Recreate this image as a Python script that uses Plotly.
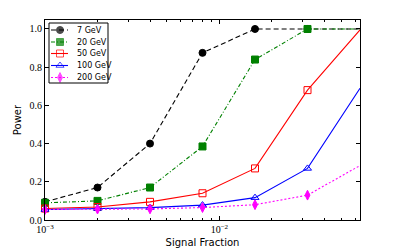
import math
import plotly.graph_objects as go

signal_fraction = [0.001, 0.002, 0.004, 0.008, 0.016, 0.032, 0.064]
power_7 = [0.095, 0.17, 0.40, 0.875, 1.0, 1.0, 1.0]
power_20 = [0.09, 0.10, 0.17, 0.385, 0.84, 1.0, 1.0]
power_50 = [0.06, 0.068, 0.095, 0.14, 0.27, 0.68, 0.995]
power_100 = [0.055, 0.06, 0.065, 0.078, 0.117, 0.27, 0.69]
power_200 = [0.055, 0.057, 0.058, 0.065, 0.08, 0.13, 0.285]

series_names = ["7 GeV", "20 GeV", "50 GeV", "100 GeV", "200 GeV"]
series_values = [power_7, power_20, power_50, power_100, power_200]
colors = ["black", "green", "red", "blue", "magenta"]
dashes = ["5px,3px", "4px,2px,1px,2px", "solid", "solid", "2px,2px"]
symbols = ["circle", "square", "square-open", "triangle-up-open", "diamond-tall"]

serif = "Liberation Serif"
sans = "DejaVu Sans"

fig = go.Figure()
for name, ys, color, dash, sym in zip(series_names, series_values, colors, dashes, symbols):
    fig.add_trace(go.Scatter(
        x=signal_fraction, y=ys, name=name, mode="lines+markers",
        line=dict(color=color, dash=dash, width=1.1),
        marker=dict(symbol=sym, size=7, color=color, line=dict(color=color, width=1)),
        cliponaxis=False, showlegend=False,
    ))

# legend frame
fig.add_shape(type="rect", xref="paper", yref="paper",
              x0=4 / 315, x1=63 / 315, y0=137 / 200, y1=197 / 200,
              line=dict(color="black", width=1), fillcolor="rgba(0,0,0,0)", layer="above")

# custom compact legend on a hidden overlay axis (units = pixels of the plot area)
leg_rows = [190, 178, 166.5, 154.5, 142.5]
for name, color, dash, sym, yy in zip(series_names, colors, dashes, symbols, leg_rows):
    fig.add_trace(go.Scatter(
        x=[6, 15, 23], y=[yy, yy, yy], xaxis="x2", yaxis="y2",
        mode="lines+markers", showlegend=False, hoverinfo="skip",
        line=dict(color=color, dash=dash, width=1.1),
        marker=dict(symbol=sym, size=[0, 7, 0], color=color, line=dict(color=color, width=1)),
        cliponaxis=False,
    ))
    fig.add_annotation(x=30, y=yy, xref="x2", yref="y2", text=name, showarrow=False,
                       xanchor="left", yanchor="middle",
                       font=dict(family=sans, size=8, color="black"))

fig.update_layout(
    width=407, height=251,
    margin=dict(l=45, r=47, t=20, b=31),
    paper_bgcolor="white", plot_bgcolor="white",
    showlegend=False,
    xaxis=dict(
        type="log", range=[-3, math.log10(0.064)], automargin=False,
        tickvals=[0.001, 0.01], ticktext=["10<sup>−3</sup>", "10<sup>−2</sup>"],
        ticks="inside", ticklen=4, tickcolor="black",
        showline=True, linecolor="black", linewidth=1, mirror="ticks",
        showgrid=False, zeroline=False,
        tickfont=dict(family=serif, size=10, color="black"),
        minor=dict(ticks="inside", ticklen=2, tickcolor="black",
                   tickvals=[0.002, 0.003, 0.004, 0.005, 0.006, 0.007, 0.008, 0.009,
                             0.02, 0.03, 0.04, 0.05, 0.06], showgrid=False),
        title=dict(text="Signal Fraction", font=dict(family=sans, size=10, color="black"), standoff=4),
    ),
    yaxis=dict(
        range=[0, 1.047], automargin=False, tickvals=[0, 0.2, 0.4, 0.6, 0.8, 1.0],
        ticktext=["0.0", "0.2", "0.4", "0.6", "0.8", "1.0"],
        ticks="inside", ticklen=4, tickcolor="black",
        showline=True, linecolor="black", linewidth=1, mirror="ticks",
        showgrid=False, zeroline=False,
        tickfont=dict(family=serif, size=10, color="black"),
        title=dict(text="Power", font=dict(family=sans, size=10, color="black"), standoff=6),
    ),
    xaxis2=dict(overlaying="x", range=[0, 315], visible=False, fixedrange=True, automargin=False),
    yaxis2=dict(overlaying="y", range=[0, 200], visible=False, fixedrange=True, automargin=False),
)

fig.write_html("out.html", config={"displayModeBar": False},
               post_script="document.body.style.margin='0px';document.body.style.overflow='hidden';")
